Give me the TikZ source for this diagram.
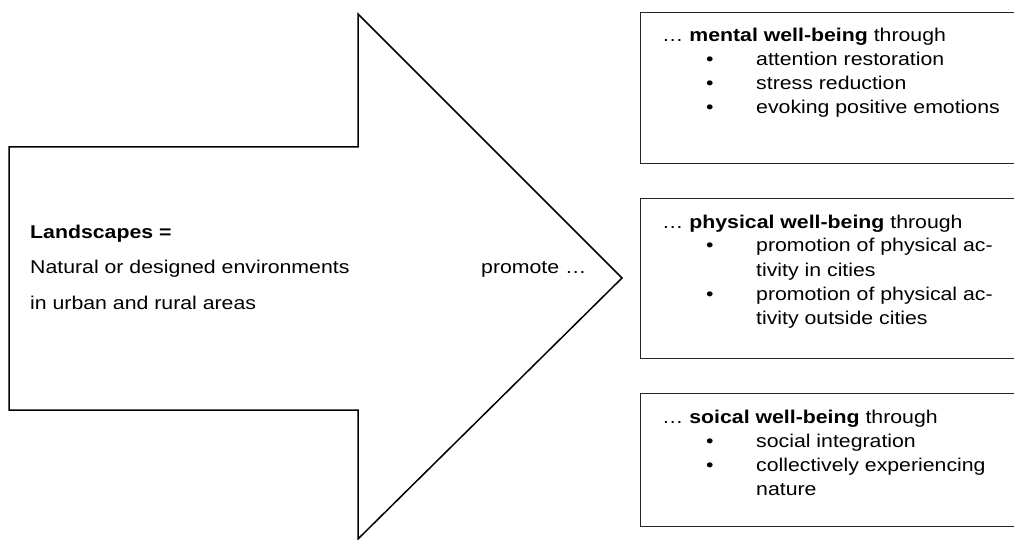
\documentclass[tikz,border=0pt]{standalone}
\usepackage{fontspec}
\setmainfont{Liberation Sans}[FakeStretch=1.15]
\newcommand{\bitem}[1]{\hspace*{44pt}\makebox[50pt][l]{•}#1}
\newcommand{\bcont}[1]{\hspace*{94pt}#1}
\begin{document}
\begin{tikzpicture}[x=1pt,y=-1pt,
  arrowshape/.style={draw=black, line width=1.5pt, line join=miter},
  wbox/.style={draw=black!85, line width=1.1pt, anchor=north west, inner sep=0pt, minimum width=390pt},
  txt/.style={anchor=base west, inner sep=0pt, font=\fontsize{18.5}{24}\selectfont},
  ltxt/.style={anchor=base west, inner sep=0pt, font=\fontsize{18.5}{35.5}\selectfont}]
\useasboundingbox (0,0) rectangle (1014,540);
\clip (0,0) rectangle (1014,540);
% big arrow
\coordinate (a1) at (9,147);
\coordinate (a2) at (358,147);
\coordinate (a3) at (358,14);
\coordinate (tip) at (622,278);
\coordinate (a5) at (358,539);
\coordinate (a6) at (358,410);
\coordinate (a7) at (9,410);
\draw[arrowshape] (a1) -- (a2) -- (a3) -- (tip) -- (a5) -- (a6) -- (a7) -- cycle;
% boxes
\node[wbox, minimum height=151pt] (b1) at (640,12) {};
\node[wbox, minimum height=160pt] (b2) at (640,198) {};
\node[wbox, minimum height=133pt] (b3) at (640,393) {};
% left text
\node[ltxt] (land) at (30,238) {\begin{tabular}[t]{@{}l@{}}\textbf{Landscapes =}\\ Natural or designed environments\\ in urban and rural areas\end{tabular}};
\node[txt] (prom) at (481,273.5) {promote …};
% box texts
\node[txt] (t1) at (662,42) {\begin{tabular}[t]{@{}l@{}}… \textbf{mental well-being} through\\
\bitem{attention restoration}\\
\bitem{stress reduction}\\
\bitem{evoking positive emotions}\end{tabular}};
\node[txt] (t2) at (662,228) {\begin{tabular}[t]{@{}l@{}}… \textbf{physical well-being} through\\
\bitem{promotion of physical ac-}\\
\bcont{tivity in cities}\\
\bitem{promotion of physical ac-}\\
\bcont{tivity outside cities}\end{tabular}};
\node[txt] (t3) at (662,423) {\begin{tabular}[t]{@{}l@{}}… \textbf{soical well-being} through\\
\bitem{social integration}\\
\bitem{collectively experiencing}\\
\bcont{nature}\end{tabular}};
\end{tikzpicture}
\end{document}
